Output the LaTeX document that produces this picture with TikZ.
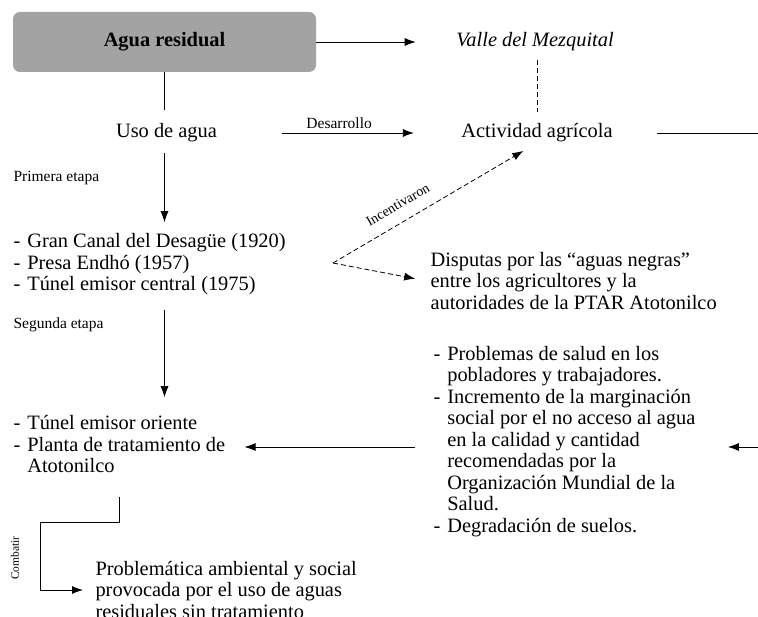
\documentclass[tikz,border=0pt]{standalone}
\usepackage{fontspec}
\setmainfont{Liberation Serif}
\usetikzlibrary{arrows.meta}
\definecolor{cajagris}{RGB}{163,163,163}
\newcommand{\grande}{\fontsize{20.4}{21.5}\selectfont}
\newcommand{\chica}{\fontsize{15.5}{17}\selectfont}
\begin{document}
\begin{tikzpicture}[x=1pt,y=-1pt]
    \tikzstyle{caja}=[rounded corners=7pt,fill=cajagris,minimum width=303pt,minimum height=60pt,font=\grande\bfseries]
    \tikzstyle{texto}=[font=\grande]
    \tikzstyle{etiqueta}=[font=\chica]
    \tikzstyle{flecha}=[-{Latex[length=11pt,width=8pt]},line width=0.8pt]
    \tikzstyle{linea}=[line width=0.8pt]
    \tikzstyle{punteada}=[dash pattern=on 5pt off 3pt]
    \useasboundingbox (0,0) rectangle (758,617);
    \clip (0,0) rectangle (758,617);
    \node[caja] (agua) at (164.5,42) {Agua residual};
    \node[texto,font=\grande\itshape] (valle) at (535,42) {Valle del Mezquital};
    \node[texto] (uso) at (166.5,133) {Uso de agua};
    \node[texto] (act) at (537,133) {Actividad agrícola};
    \node[etiqueta,anchor=west] (primera) at (10,178) {Primera etapa};
    \node[texto,anchor=west] (etapa1) at (10,265) {\begin{tabular}{@{}l@{\hspace{7pt}}l@{}}-&Gran Canal del Desagüe (1920)\\-&Presa Endhó (1957)\\-&Túnel emisor central (1975)\end{tabular}};
    \node[texto,anchor=west,align=left] (disp) at (427,281) {Disputas por las “aguas negras”\\entre los agricultores y la\\autoridades de la PTAR Atotonilco};
    \node[etiqueta,anchor=west] (segunda) at (10,325) {Segunda etapa};
    \node[texto,anchor=west] (etapa2) at (10,447) {\begin{tabular}{@{}l@{\hspace{7pt}}l@{}}-&Túnel emisor oriente\\-&Planta de tratamiento de\\&Atotonilco\end{tabular}};
    \node[texto,anchor=west] (prob) at (430,442) {\begin{tabular}{@{}l@{\hspace{7pt}}l@{}}-&Problemas de salud en los\\&pobladores y trabajadores.\\-&Incremento de la marginación\\&social por el no acceso al agua\\&en la calidad y cantidad\\&recomendadas por la\\&Organización Mundial de la\\&Salud.\\-&Degradación de suelos.\end{tabular}};
    \node[texto,anchor=west,align=left] (probl) at (92,590) {Problemática ambiental y social\\provocada por el uso de aguas\\residuales sin tratamiento};
    \node[font=\fontsize{11.5}{13}\selectfont,rotate=90] (combatir) at (15,558) {Combatir};
    \coordinate (bifurca) at (333,263);
    \coordinate (borde1) at (775,133);
    \coordinate (borde2) at (775,447);
    \coordinate (codo) at (40,522);
    \draw[flecha,shorten >=37pt] (agua.east) -- (valle.west);
    \draw[linea,punteada,shorten <=5pt,shorten >=8pt] (act.north |- valle.south) -- (act.north);
    \draw[linea,shorten >=10pt] (agua.south) -- (agua.south |- uso.north);
    \draw[flecha,shorten <=62pt,shorten >=44pt] (uso.east) -- (act.west) node[etiqueta,midway,above=1pt] {Desarrollo};
    \draw[linea,shorten <=41pt] (act.east) -- (borde1) -- (borde2);
    \draw[flecha,shorten >=29pt] (borde2) -- (borde2 -| prob.east);
    \draw[flecha,shorten <=7pt,shorten >=7pt] (agua.south |- uso.south) -- (agua.south |- etapa1.north);
    \draw[flecha,shorten <=9pt,shorten >=14pt] (agua.south |- etapa1.south) -- (agua.south |- etapa2.north);
    \draw[flecha,linea,punteada,shorten >=10pt] (bifurca) -- ([xshift=-5pt]act.south) node[pos=0.37,sloped,above=9pt,font=\fontsize{14}{16}\selectfont] {Incentivaron};
    \draw[flecha,linea,punteada,shorten >=12pt] (bifurca) -- (disp.west);
    \draw[flecha,shorten <=15pt,shorten >=16pt] (prob.west |- etapa2.east) -- (etapa2.east);
    \draw[flecha,shorten <=14pt,shorten >=9pt] (etapa2.south) |- (codo) |- (probl.west);
\end{tikzpicture}
\end{document}
